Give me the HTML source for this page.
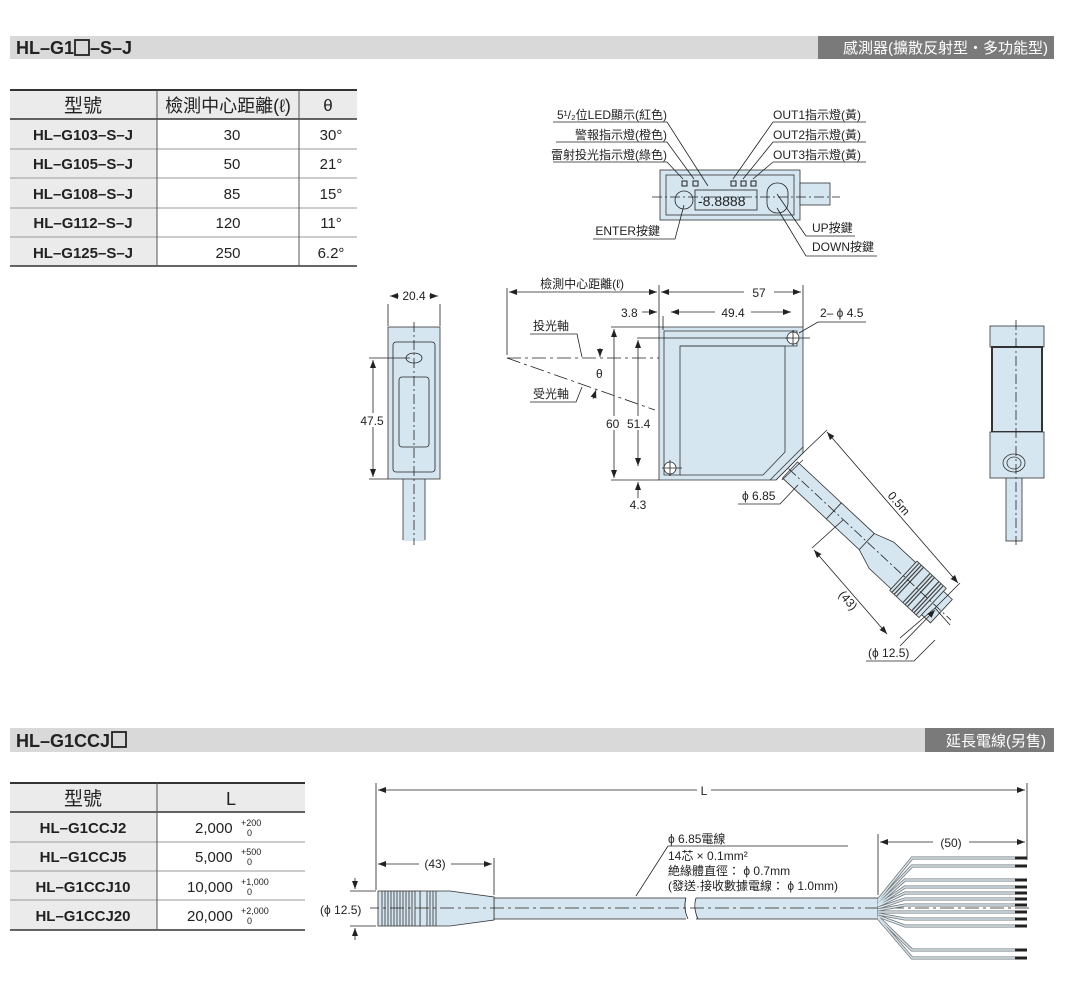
<!DOCTYPE html>
<html><head><meta charset="utf-8"><style>
body{margin:0;background:#fff;width:1092px;height:976px;overflow:hidden;font-family:"Liberation Sans","Noto Sans CJK TC",sans-serif;}
svg text{font-family:"Liberation Sans","Noto Sans CJK TC",sans-serif;}
</style></head><body>
<svg width="1092" height="976" viewBox="0 0 1092 976" xmlns="http://www.w3.org/2000/svg">
<defs>
<marker id="a" markerWidth="8" markerHeight="6" refX="8" refY="3" orient="auto-start-reverse" markerUnits="userSpaceOnUse"><path d="M0,0L8,3L0,6z" fill="#222"/></marker>
</defs>
<!-- header bars -->
<rect x="10" y="36" width="1044" height="23" fill="#d9d9d9"/>
<rect x="818" y="36" width="236" height="23" fill="#7a7a7a"/>
<text x="16" y="54" font-size="18" font-weight="bold" fill="#222">HL–G1</text>
<rect x="75" y="40" width="14" height="15" fill="none" stroke="#222" stroke-width="1.8"/>
<text x="90" y="54" font-size="18" font-weight="bold" fill="#222">–S–J</text>
<text x="1048" y="53" font-size="15" fill="#fff" text-anchor="end">感測器(擴散反射型・多功能型)</text>
<rect x="10" y="728" width="1044" height="24" fill="#d9d9d9"/>
<rect x="925" y="728" width="129" height="24" fill="#7a7a7a"/>
<text x="16" y="747" font-size="18" font-weight="bold" fill="#222">HL–G1CCJ</text>
<rect x="112" y="732" width="14" height="15" fill="none" stroke="#222" stroke-width="1.8"/>
<text x="1046" y="746" font-size="15" fill="#fff" text-anchor="end">延長電線(另售)</text>

<!-- table 1 -->
<g font-size="15" fill="#222">
<rect x="10" y="90" width="347" height="29" fill="#ebebeb"/>
<rect x="10" y="119" width="147" height="147" fill="#ebebeb"/>
<line x1="10" y1="90" x2="357" y2="90" stroke="#333" stroke-width="2"/>
<line x1="10" y1="119" x2="357" y2="119" stroke="#333" stroke-width="1.5"/>
<g stroke="#999" stroke-width="1"><line x1="10" y1="149" x2="357" y2="149"/><line x1="10" y1="178" x2="357" y2="178"/><line x1="10" y1="208" x2="357" y2="208"/><line x1="10" y1="237" x2="357" y2="237"/></g>
<line x1="10" y1="266" x2="357" y2="266" stroke="#333" stroke-width="1.5"/>
<g stroke="#555"><line x1="157" y1="90" x2="157" y2="266"/><line x1="299" y1="90" x2="299" y2="266"/></g>
<text x="83" y="112" font-size="19" text-anchor="middle">型號</text>
<text x="228" y="112" font-size="18" text-anchor="middle">檢測中心距離(ℓ)</text>
<text x="328" y="111" font-size="17" text-anchor="middle">θ</text>
<g font-weight="bold" text-anchor="middle"><text x="83" y="140">HL–G103–S–J</text><text x="83" y="169">HL–G105–S–J</text><text x="83" y="199">HL–G108–S–J</text><text x="83" y="228">HL–G112–S–J</text><text x="83" y="258">HL–G125–S–J</text></g>
<g text-anchor="middle"><text x="232" y="140">30</text><text x="232" y="169">50</text><text x="232" y="199">85</text><text x="228" y="228">120</text><text x="228" y="258">250</text>
<text x="331" y="140">30°</text><text x="331" y="169">21°</text><text x="331" y="199">15°</text><text x="331" y="228">11°</text><text x="331" y="258">6.2°</text></g>
</g>

<!-- table 2 -->
<g font-size="15" fill="#222">
<rect x="10" y="783" width="295" height="29" fill="#ebebeb"/>
<rect x="10" y="812" width="147" height="118" fill="#ebebeb"/>
<line x1="10" y1="783" x2="305" y2="783" stroke="#333" stroke-width="2"/>
<line x1="10" y1="812" x2="305" y2="812" stroke="#333" stroke-width="1.5"/>
<g stroke="#999"><line x1="10" y1="842" x2="305" y2="842"/><line x1="10" y1="871" x2="305" y2="871"/><line x1="10" y1="900" x2="305" y2="900"/></g>
<line x1="10" y1="930" x2="305" y2="930" stroke="#333" stroke-width="1.5"/>
<line x1="157" y1="783" x2="157" y2="930" stroke="#555"/>
<text x="83" y="805" font-size="19" text-anchor="middle">型號</text>
<text x="231" y="805" font-size="18" text-anchor="middle">L</text>
<g font-weight="bold" text-anchor="middle"><text x="83" y="833">HL–G1CCJ2</text><text x="83" y="862">HL–G1CCJ5</text><text x="83" y="892">HL–G1CCJ10</text><text x="83" y="921">HL–G1CCJ20</text></g>
<text x="195" y="833">2,000</text><text x="241" y="826" font-size="9">+200</text><text x="247" y="836" font-size="9">0</text>
<text x="195" y="862">5,000</text><text x="241" y="855" font-size="9">+500</text><text x="247" y="865" font-size="9">0</text>
<text x="187" y="892">10,000</text><text x="241" y="885" font-size="9">+1,000</text><text x="247" y="895" font-size="9">0</text>
<text x="187" y="921">20,000</text><text x="241" y="914" font-size="9">+2,000</text><text x="247" y="924" font-size="9">0</text>
</g>

<g stroke="#222" fill="none" stroke-width="0.8" font-size="12">
<!-- top display view -->
<rect x="660" y="170" width="140" height="50" fill="#d5e6f0" stroke="#333"/>
<rect x="666" y="175" width="128" height="40" stroke="#333"/>
<rect x="800" y="183" width="30" height="22" fill="#d5e6f0" stroke="#333"/>
<line x1="652" y1="197" x2="840" y2="197" stroke-dasharray="10,3,2,3"/>
<circle cx="684" cy="200" r="9"/>
<rect x="767" y="183" width="21" height="30" rx="10"/>
<rect x="695" y="190" width="62" height="20"/>
<g stroke-width="1">
<rect x="682" y="181" width="5" height="5"/><rect x="693" y="181" width="5" height="5"/>
<rect x="731" y="181" width="5" height="5"/><rect x="741" y="181" width="5" height="5"/><rect x="751" y="181" width="5" height="5"/></g>
<text x="698" y="206" font-size="14" fill="#222" stroke="none" font-family="Liberation Mono">-8.8888</text>
<g fill="#222" stroke="none" text-anchor="end"><text x="667" y="119">5¹/₂位LED顯示(紅色)</text><text x="667" y="139">警報指示燈(橙色)</text><text x="667" y="159">雷射投光指示燈(綠色)</text><text x="660" y="235">ENTER按鍵</text></g>
<g fill="#222" stroke="none"><text x="773" y="119">OUT1指示燈(黃)</text><text x="773" y="139">OUT2指示燈(黃)</text><text x="773" y="159">OUT3指示燈(黃)</text><text x="812" y="232">UP按鍵</text><text x="812" y="251">DOWN按鍵</text></g>
<path d="M553 122H667L708 186M556 142H667L694 179M553 162H667L683 179M593 239H675L684 205M773 122H866M773 122L733 179M773 142H866M773 142L743 179M773 162H866M773 162L753 179M806 236H855M806 236L777 194M806 256H877M806 256L777 208"/>

<!-- side left -->
<rect x="403" y="479" width="22" height="62" fill="#d5e6f0" stroke="none"/>
<path d="M403 479V540M425 479V540" stroke="#333"/>
<rect x="388" y="327" width="52" height="152" fill="#d5e6f0" stroke="#333"/>
<rect x="393" y="342" width="42" height="130" rx="3"/>
<rect x="399" y="377" width="30" height="70" rx="3"/>
<ellipse cx="414" cy="358" rx="8" ry="5"/>
<line x1="414" y1="322" x2="414" y2="545" stroke-dasharray="10,3,2,3"/>
<path d="M388 304V326M440 304V326"/>
<line x1="390" y1="296" x2="438" y2="296" marker-start="url(#a)" marker-end="url(#a)"/>
<rect x="399" y="289" width="30" height="13" fill="#fff" stroke="none"/>
<text x="414" y="300" fill="#222" stroke="none" text-anchor="middle">20.4</text>
<path d="M369 358H410M369 479H388"/>
<line x1="373" y1="360" x2="373" y2="477" marker-start="url(#a)" marker-end="url(#a)"/>
<rect x="359" y="413" width="28" height="14" fill="#fff" stroke="none"/>
<text x="372" y="425" fill="#222" stroke="none" text-anchor="middle">47.5</text>

<!-- side right -->
<rect x="1006" y="465" width="16" height="76" fill="#d5e6f0" stroke="#333"/>
<rect x="990" y="326" width="54" height="21" fill="#d5e6f0" stroke="#333"/>
<rect x="992" y="347" width="50" height="85" fill="#d5e6f0" stroke="#333" stroke-width="2"/>
<rect x="990" y="432" width="54" height="46" fill="#d5e6f0" stroke="#333"/>
<ellipse cx="1014" cy="463" rx="11" ry="9" fill="#d5e6f0" stroke="#333"/>
<ellipse cx="1014" cy="463" rx="7" ry="6" stroke="#333"/>
<line x1="1016" y1="320" x2="1016" y2="545" stroke-dasharray="10,3,2,3"/>

<!-- main front view cable -->
<g transform="rotate(43 790 470)">
<rect x="790" y="459" width="60" height="22" fill="#d5e6f0" stroke="#333"/>
<rect x="850" y="459" width="45" height="22" fill="#d5e6f0" stroke="#333"/>
<path d="M895 459L915 452H945V488H915L895 481Z" fill="#d5e6f0" stroke="#333"/>
<rect x="945" y="450" width="40" height="40" fill="#d5e6f0" stroke="#333"/>
<g stroke="#444" stroke-width="1.2"><path d="M948 450V490M951 450V490M954 450V490M963 450V490M966 450V490M969 450V490M975 450V490M978 450V490M981 450V490"/></g>
<rect x="985" y="454" width="12" height="32" fill="#d5e6f0" stroke="#333"/>
<line x1="770" y1="470" x2="1010" y2="470" stroke-dasharray="10,3,2,3"/>
</g>
<!-- main body -->
<path d="M659 327H803V453L776 480H659Z" fill="#d5e6f0" stroke="#333"/>
<path d="M664 331H797V346H680V475H664Z" stroke="#333"/>
<path d="M680 346H785V452L763 475H680" stroke="#333"/>
<path d="M776 480L803 453M770 480L803 447M782 480L803 460" stroke="#333"/>
<circle cx="793" cy="338" r="6" fill="#fff"/><circle cx="670" cy="468" r="6" fill="#fff"/>
<path d="M785 338H810M793 330V346M662 468H682M670 460V476"/>
<!-- dims main -->
<path d="M507 288V355M659 285V327M803 285V327M663 316V330"/>
<line x1="509" y1="292" x2="657" y2="292" marker-start="url(#a)" marker-end="url(#a)"/>
<line x1="661" y1="292" x2="801" y2="292" marker-start="url(#a)" marker-end="url(#a)"/>
<rect x="744" y="285" width="30" height="14" fill="#fff" stroke="none"/>
<text x="759" y="297" fill="#222" stroke="none" text-anchor="middle">57</text>
<text x="582" y="288" fill="#222" stroke="none" text-anchor="middle">檢測中心距離(ℓ)</text>
<line x1="642" y1="312" x2="657" y2="312" marker-end="url(#a)"/>
<text x="621" y="317" fill="#222" stroke="none">3.8</text>
<line x1="671" y1="312" x2="791" y2="312" marker-start="url(#a)" marker-end="url(#a)"/>
<rect x="715" y="305" width="36" height="14" fill="#fff" stroke="none"/>
<text x="733" y="317" fill="#222" stroke="none" text-anchor="middle">49.4</text>
<text x="820" y="317" fill="#222" stroke="none">2– ϕ 4.5</text>
<path d="M866 322H818L799 333"/>
<path d="M611 327H659M637 338H790M611 480H659"/>
<line x1="614" y1="329" x2="614" y2="478" marker-start="url(#a)" marker-end="url(#a)"/>
<line x1="638" y1="340" x2="638" y2="466" marker-start="url(#a)" marker-end="url(#a)"/>
<rect x="605" y="416" width="50" height="14" fill="#fff" stroke="none"/>
<text x="606" y="428" fill="#222" stroke="none">60</text><text x="627" y="428" fill="#222" stroke="none">51.4</text>
<line x1="638" y1="498" x2="638" y2="482" marker-end="url(#a)"/>
<text x="638" y="509" fill="#222" stroke="none" text-anchor="middle">4.3</text>
<line x1="507" y1="358" x2="659" y2="358" stroke-dasharray="14,4,3,4"/>
<line x1="507" y1="358" x2="655" y2="410" stroke-dasharray="14,4,3,4"/>
<text x="533" y="330" fill="#222" stroke="none">投光軸</text><path d="M530 334H577L582 357"/>
<text x="533" y="398" fill="#222" stroke="none">受光軸</text><path d="M530 402H576L582 387"/>
<line x1="600" y1="348" x2="600" y2="357" marker-end="url(#a)"/>
<line x1="593" y1="399" x2="596" y2="390" marker-end="url(#a)"/>
<text x="596" y="378" fill="#222" stroke="none">θ</text>
<text x="742" y="500" fill="#222" stroke="none">ϕ 6.85</text><path d="M738 504H780L798 485"/>
<path d="M803 453L827 430M935 608L960 583M843 520L812 548M935 608L900 638M935 608L950 625"/>
<line x1="827" y1="432" x2="958" y2="583" marker-start="url(#a)" marker-end="url(#a)"/>
<line x1="814" y1="550" x2="887" y2="634" marker-start="url(#a)" marker-end="url(#a)"/>
<line x1="900" y1="646" x2="935" y2="610" marker-end="url(#a)"/>
<text x="887" y="496" fill="#222" stroke="none" transform="rotate(49 887 496)">0.5m</text>
<text x="838" y="595" fill="#222" stroke="none" transform="rotate(49 838 595)">(43)</text>
<text x="868" y="657" fill="#222" stroke="none">(ϕ 12.5)</text><path d="M866 661H914L935 640"/>

<!-- bottom cable -->
<rect x="494" y="898" width="384" height="21" fill="#d5e6f0" stroke="#333"/>
<rect x="686" y="895" width="10" height="27" fill="#fff" stroke="none"/>
<path d="M686 898Q683 908 688 919M696 898Q693 908 698 919"/>
<path d="M420 891L450 891L494 897V920L450 926L420 926Z" fill="#d5e6f0" stroke="#333"/>
<rect x="378" y="891" width="42" height="35" fill="#d5e6f0" stroke="#333"/>
<g stroke="#333"><path d="M382 891V926M385 891V926M388 891V926M391 891V926M394 891V926M397 891V926M400 891V926M403 891V926M406 891V926M409 891V926M412 891V926M415 891V926M427 891V926M430 891V926M433 891V926M436 891V926"/></g>
<line x1="340" y1="908" x2="1030" y2="908" stroke-dasharray="14,4,3,4"/>
<g stroke="#777" stroke-width="3">
<path d="M878 900L912 858H1015M878 902L912 866H1015M878 904L905 880H1015M878 905L905 887H1015M878 906L905 893H1015M878 908L905 899H1015M878 910L905 905H1015M878 912L905 912H1015M878 914L905 919H1015M878 916L905 926H1015M878 917L912 950H1015M878 918L912 958H1015"/>
</g>
<g stroke="#d5e6f0" stroke-width="1.4">
<path d="M878 900L912 858H1015M878 902L912 866H1015M878 904L905 880H1015M878 905L905 887H1015M878 906L905 893H1015M878 908L905 899H1015M878 910L905 905H1015M878 912L905 912H1015M878 914L905 919H1015M878 916L905 926H1015M878 917L912 950H1015M878 918L912 958H1015"/>
</g>
<g stroke="#222" stroke-width="3"><path d="M1015 858H1027M1015 866H1027M1015 880H1027M1015 887H1027M1015 893H1027M1015 899H1027M1015 905H1027M1015 912H1027M1015 919H1027M1015 926H1027M1015 950H1027M1015 958H1027"/></g>
<path d="M376 783V890M1027 783V860M494 858V895M878 834V895"/>
<line x1="378" y1="790" x2="1025" y2="790" marker-start="url(#a)" marker-end="url(#a)"/>
<rect x="697" y="783" width="14" height="14" fill="#fff" stroke="none"/>
<text x="704" y="795" fill="#222" stroke="none" text-anchor="middle">L</text>
<line x1="378" y1="864" x2="492" y2="864" marker-start="url(#a)" marker-end="url(#a)"/>
<rect x="419" y="857" width="32" height="14" fill="#fff" stroke="none"/>
<text x="435" y="868" fill="#222" stroke="none" text-anchor="middle">(43)</text>
<line x1="880" y1="842" x2="1025" y2="842" marker-start="url(#a)" marker-end="url(#a)"/>
<rect x="933" y="835" width="36" height="14" fill="#fff" stroke="none"/>
<text x="951" y="847" fill="#222" stroke="none" text-anchor="middle">(50)</text>
<path d="M350 891H376M350 926H376"/>
<line x1="355" y1="878" x2="355" y2="889" marker-end="url(#a)"/>
<line x1="355" y1="940" x2="355" y2="928" marker-end="url(#a)"/>
<rect x="318" y="902" width="52" height="14" fill="#fff" stroke="none"/>
<text x="320" y="914" fill="#222" stroke="none">(ϕ 12.5)</text>
<path d="M668 846H848M668 846L636 896"/>
<g fill="#222" stroke="none"><text x="668" y="843">ϕ 6.85電線</text><text x="668" y="860">14芯 × 0.1mm²</text><text x="668" y="875">絶緣體直徑：  ϕ 0.7mm</text><text x="668" y="890">(發送·接收數據電線：  ϕ 1.0mm)</text></g>
</g>
</svg>
</body></html>
